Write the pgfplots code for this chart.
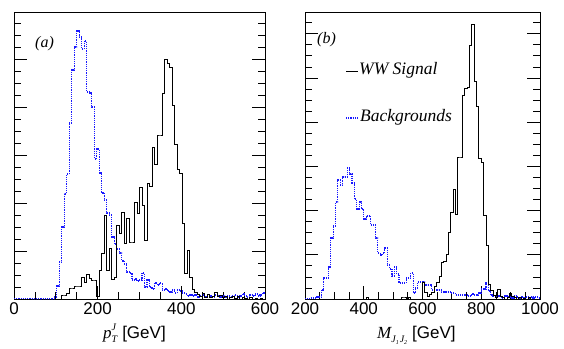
\documentclass[border=0pt]{standalone}
\usepackage{pgfplots}
\pgfplotsset{compat=1.18}
\usepackage{pgfplotstable}
\usepackage{fontspec}
\setmainfont{Liberation Sans}
\newfontfamily\tf{Liberation Serif}
\definecolor{bkgblue}{rgb}{0.1,0.1,1}

\pgfplotstableread{
x sig bkg
0 0 0
84 0 0
90 0 0
96 0 2
102 0 13
108 0 37
114 4 72
120 4 105
126 6 125
132 11 176
138 11 229
144 13 252
150 13 268
156 13 262
162 22 250
168 17 258
174 25 207
180 21 206
186 19 192
192 19 140
198 3 150
204 29 126
210 46 106
216 84 99
222 29 86
228 51 84
234 20 62
240 22 55
246 74 50
252 66 46
258 87 38
264 56 35
270 81 27
276 57 26
282 57 19
288 97 20
294 86 18
300 112 19
306 94 26
312 59 12
318 116 19
324 113 12
330 152 10
336 135 16
342 164 14
348 164 16
354 206 9
360 240 10
366 236 8
372 232 7
378 194 9
384 155 6
390 130 9
396 126 8
402 76 6
408 26 5
414 49 3
420 22 4
426 10 3
432 7 4
438 5 2
444 3 3
450 6 4
456 2 2
462 5 3
468 2 3
474 3 2
480 7 4
486 3 3
492 4 2
498 2 3
504 3 2
510 0 3
516 2 2
522 3 3
528 1 4
534 3 2
540 0 3
546 2 5
552 1 3
558 0 2
564 2 4
570 0 3
576 1 5
582 0 3
588 1 4
594 0 6
600 0 6
}\lefttab

\pgfplotstableread{
x sig bkg
200 0 0
208 0 0
216 0 1
224 0 1
232 0 1
240 0 2
248 0 2
256 0 9
264 0 21
272 0 21
280 0 32
288 0 61
296 0 73
304 0 97
312 0 119
320 0 114
328 0 122
336 0 122
344 0 131
352 0 125
360 0 116
368 0 100
376 0 90
384 0 97
392 0 90
400 0 80
408 2 83
416 0 83
424 0 74
432 0 74
440 0 61
448 0 46
456 0 44
464 0 46
472 0 51
480 0 34
488 0 30
496 0 23
504 0 32
512 0 25
520 0 16
528 2 16
536 2 16
544 0 21
552 2 21
560 0 26
568 0 6
576 0 11
584 0 17
592 0 17
600 17 17
608 7 14
616 3 14
624 5 14
632 7 9
640 13 9
648 17 9
656 23 9
664 37 7
672 38 7
680 45 7
688 67 7
696 87 6
704 110 6
712 85 4
720 142 4
728 142 4
736 204 4
744 211 4
752 212 3
760 254 3
768 275 5
776 218 4
784 193 4
792 141 6
800 137 10
808 84 10
816 54 16
824 15 8
832 9 4
840 4 3
848 2 2
856 10 3
864 3 2
872 2 1
880 0 3
888 2 2
896 6 2
904 3 1
912 2 3
920 0 2
928 2 1
936 0 2
944 1 1
952 0 2
960 2 1
968 0 2
976 0 1
984 0 2
992 0 1
1000 0 1
}\righttab

\pgfplotsset{
  histax/.style={
    scale only axis,
    height=287pt,
    ymin=0, ymax=287,
    yticklabels={},
    xtick pos=bottom,
    ytick pos=both,
    tick align=inside,
    major tick length=13pt,
    minor tick length=7pt,
    minor x tick num=3,
    axis line style={line width=0.8pt},
    every tick/.style={line width=0.8pt, black},
    every minor tick/.style={line width=0.8pt, black},
    tick label style={font=\fontsize{17}{19}\selectfont},
    /pgf/number format/assume math mode=true,
    /pgf/number format/1000 sep={},
    clip=true,
  },
  sigline/.style={const plot mark left, black, line width=0.9pt, no marks},
  bkgline/.style={const plot mark left, bkgblue, dash pattern=on 1.2pt off 1pt, line width=1.1pt, no marks},
}

\begin{document}
\begin{tikzpicture}
\useasboundingbox (0,0) rectangle (564pt,348pt);

\begin{axis}[histax,
  at={(14pt,49pt)}, anchor=south west,
  width=251pt,
  xmin=0, xmax=600,
  xtick={0,200,400,600},
  ytick={48,96,144,192,240},
  minor ytick={12,24,36,60,72,84,108,120,132,156,168,180,204,216,228,252,264,276},
]
\addplot[bkgline] table[x=x,y=bkg] {\lefttab};
\addplot[sigline] table[x=x,y=sig] {\lefttab};
\end{axis}

\begin{axis}[histax,
  at={(305pt,49pt)}, anchor=south west,
  width=235pt,
  xmin=200, xmax=1000,
  xtick={200,400,600,800,1000},
  ytick={44.2,88.4,132.6,176.8,221,265.2},
  minor ytick={11.05,22.1,33.15,55.25,66.3,77.35,99.45,110.5,121.55,143.65,154.7,165.75,187.85,198.9,209.95,232.05,243.1,254.15,276.25},
]
\addplot[bkgline] table[x=x,y=bkg] {\righttab};
\addplot[sigline] table[x=x,y=sig] {\righttab};
\end{axis}

% panel labels
\node[anchor=base west, inner sep=0pt] at (35pt,300pt) {\tf\itshape\fontsize{16}{18}\selectfont (a)};
\node[anchor=base west, inner sep=0pt] at (317pt,304pt) {\tf\itshape\fontsize{16}{18}\selectfont (b)};

% legend
\draw[black, line width=0.9pt] (346pt,277pt) -- (358pt,277pt);
\node[anchor=base west, inner sep=0pt] at (359pt,273pt) {\tf\itshape\fontsize{17.5}{19}\selectfont WW Signal};
\draw[bkgblue, dash pattern=on 1.2pt off 1pt, line width=1.1pt] (346pt,230pt) -- (359pt,230pt);
\node[anchor=base west, inner sep=0pt] at (360pt,226pt) {\tf\itshape\fontsize{17.5}{19}\selectfont Backgrounds};

% axis titles
\node[anchor=base west, inner sep=0pt] at (103pt,10pt) {\fontsize{17}{19}\selectfont{\tf\itshape p}\rlap{\raisebox{8pt}{\tf\itshape\fontsize{10}{12}\selectfont J}}\raisebox{-4pt}{\tf\itshape\fontsize{10}{12}\selectfont T}\hspace{5pt}[GeV]};
\node[anchor=base west, inner sep=0pt] at (377pt,10pt) {\fontsize{17}{19}\selectfont{\tf\itshape M}\raisebox{-4pt}{\tf\itshape\fontsize{10}{12}\selectfont J\raisebox{-2pt}{\fontsize{6}{7}\selectfont 1}\hspace{1pt}J\raisebox{-2pt}{\fontsize{6}{7}\selectfont 2}}\hspace{5pt}[GeV]};
\end{tikzpicture}
\end{document}
